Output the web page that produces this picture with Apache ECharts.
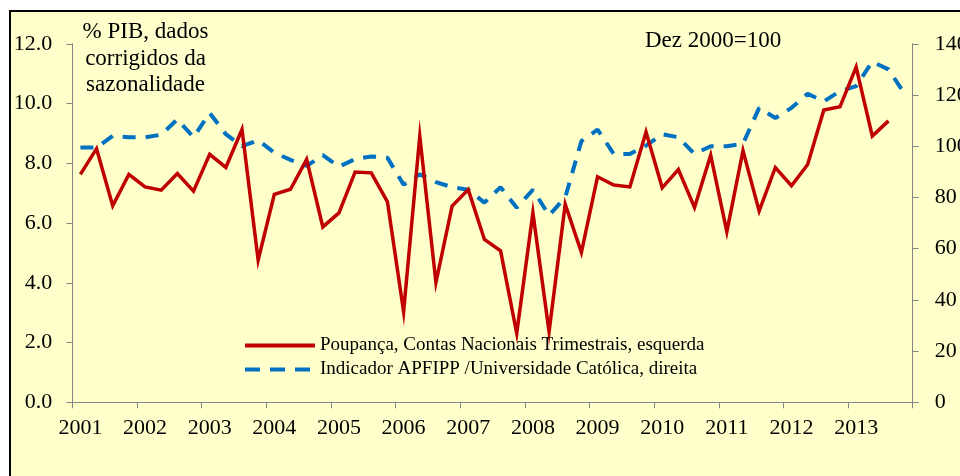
<!DOCTYPE html>
<html><head><meta charset="utf-8">
<script src="https://cdn.jsdelivr.net/npm/echarts@6/dist/echarts.min.js"></script>
<style>html,body{margin:0;padding:0;background:#fff}#c{width:960px;height:476px}</style>
</head><body><div id="c"></div>
<script>
const years = ['2001','2002','2003','2004','2005','2006','2007','2008','2009','2010','2011','2012','2013'];
const quarters = ['T1','T2','T3','T4'];
const categories = [];
years.forEach(y => quarters.forEach(q => categories.push(y + ' ' + q)));

// Poupança, % PIB (left axis), 2001T1..2013T3
const poupanca = [7.63, 8.49, 6.58, 7.63, 7.21, 7.10, 7.66, 7.07, 8.30, 7.86,
  9.13, 4.76, 6.96, 7.13, 8.13, 5.87, 6.34, 7.71, 7.68, 6.71,
  3.03, 8.91, 4.01, 6.57, 7.12, 5.45, 5.07, 2.31, 6.34, 2.36,
  6.63, 5.02, 7.55, 7.27, 7.21, 9.05, 7.18, 7.79, 6.52, 8.27,
  5.71, 8.42, 6.40, 7.86, 7.25, 7.96, 9.78, 9.89, 11.22, 8.91,
  9.42, null];

// Indicador APFIPP / Universidade Católica (right axis), 2001T1..2013T4
const indicador = [99.5, 99.5, 104, 103.5, 103.5, 104.5, 110.5, 103.5, 113, 104.7,
  100, 102.3, 97.5, 94.7, 92.3, 96.5, 92, 95, 96, 95.5,
  85, 89, 86, 84, 83, 78, 84, 76, 83, 73,
  80, 102, 106.5, 97, 97, 100.2, 104.7, 103.5, 97, 100,
  100, 101, 115, 111, 115, 120.5, 117.5, 121.5, 123.5, 133,
  130, 120.5];

const seriesNames = ['Poupança, Contas Nacionais Trimestrais, esquerda',
                     'Indicador APFIPP /Universidade Católica, direita'];
const leftAxisTitle = '% PIB, dados\ncorrigidos da\nsazonalidade';
const rightAxisTitle = 'Dez 2000=100';

const FONT = 'Liberation Serif';
const axisGray = '#868686';
const RED = '#C00000', BLUE = '#0070C0';

const chart = echarts.init(document.getElementById('c'));
chart.setOption({
  animation: false,
  textStyle: { fontFamily: FONT },
  graphic: [
    { type: 'rect', z: -10, silent: true,
      shape: { x: 10, y: 11, width: 1000, height: 500 },
      style: { fill: '#FFFFCC', stroke: '#000', lineWidth: 2 } },
    { type: 'text', z: 10, x: 145.5, y: 19, silent: true,
      style: { text: leftAxisTitle, fill: '#000', font: '23px "Liberation Serif"',
               align: 'center', verticalAlign: 'top', lineHeight: 26.5 } },
    { type: 'text', z: 10, x: 645, y: 41, silent: true,
      style: { text: rightAxisTitle, fill: '#000', font: '23px "Liberation Serif"',
               align: 'left', verticalAlign: 'middle' } }
  ],
  grid: { left: 72.3, right: 47.3, top: 43.8, bottom: 73.7, containLabel: false,
          outerBoundsMode: 'none' },
  legend: {
    orient: 'vertical', left: 243, top: 336, padding: 0,
    itemWidth: 70, itemHeight: 14, itemGap: 5,
    textStyle: { fontFamily: FONT, fontSize: 19, color: '#000', lineHeight: 19 },
    data: [
      { name: seriesNames[0], itemStyle: { opacity: 0 },
        lineStyle: { color: RED, width: 4, type: 'solid' } },
      { name: seriesNames[1], itemStyle: { opacity: 0 },
        lineStyle: { color: BLUE, width: 4, type: [15, 10] } }
    ]
  },
  xAxis: {
    type: 'category', data: categories, boundaryGap: true,
    axisLine: { lineStyle: { color: axisGray, width: 1 } },
    axisTick: { show: true, interval: 3, length: 6, alignWithLabel: false, lineStyle: { color: axisGray } },
    axisLabel: { interval: 3, formatter: v => v.slice(0, 4), margin: 15,
                 fontSize: 22, color: '#000', fontFamily: FONT },
    splitLine: { show: false }
  },
  yAxis: [
    { type: 'value', position: 'left', min: 0, max: 12, interval: 2,
      axisLine: { show: true, lineStyle: { color: axisGray } },
      axisTick: { show: true, length: 6, lineStyle: { color: axisGray } },
      axisLabel: { formatter: v => v.toFixed(1), margin: 20, fontSize: 22, color: '#000', fontFamily: FONT },
      splitLine: { show: false } },
    { type: 'value', position: 'right', min: 0, max: 140, interval: 20,
      axisLine: { show: true, lineStyle: { color: axisGray } },
      axisTick: { show: true, length: 6, lineStyle: { color: axisGray } },
      axisLabel: { margin: 22, fontSize: 22, color: '#000', fontFamily: FONT },
      splitLine: { show: false } }
  ],
  series: [
    { name: seriesNames[0], type: 'line', yAxisIndex: 0, data: poupanca,
      symbol: 'none', smooth: false, connectNulls: false,
      lineStyle: { color: RED, width: 3.5, join: 'miter' },
      itemStyle: { color: RED }, z: 3 },
    { name: seriesNames[1], type: 'line', yAxisIndex: 1, data: indicador,
      symbol: 'none', smooth: false,
      lineStyle: { color: BLUE, width: 4, type: [13, 10] },
      itemStyle: { color: BLUE }, z: 2 }
  ]
});
</script></body></html>
